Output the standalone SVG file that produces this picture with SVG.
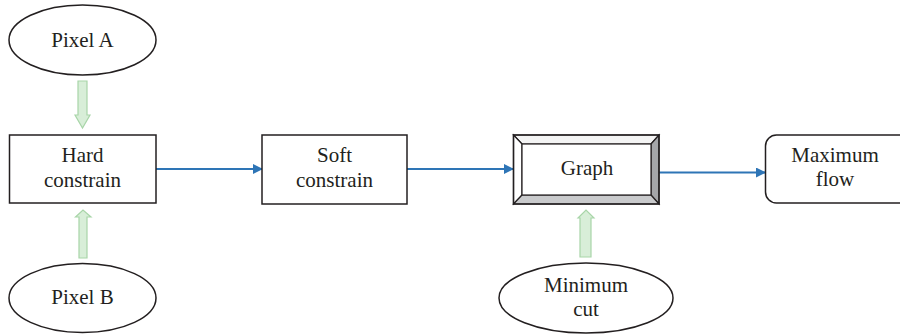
<svg xmlns="http://www.w3.org/2000/svg" width="900" height="334" viewBox="0 0 900 334">
<style>
.box{fill:#fff;stroke:#231f20;stroke-width:1.5}
.t{font-family:"Liberation Serif","Times New Roman",serif;font-size:21px;fill:#231f20;text-anchor:middle}
.blue{stroke:#2e75b6;stroke-width:2;fill:none;marker-end:url(#ah)}
.green{fill:#d8eed8;stroke:#a8d5a8;stroke-width:1.2}
</style>
<defs>
<marker id="ah" markerWidth="10" markerHeight="10" refX="9" refY="5" orient="auto" markerUnits="userSpaceOnUse">
<path d="M0,0 L10,5 L0,10 Z" fill="#2e75b6"/>
</marker>
</defs>
<rect width="900" height="334" fill="#fff"/>
<g id="connectors">
<line class="blue" x1="156" y1="169" x2="262" y2="169"/>
<line class="blue" x1="407" y1="169" x2="513" y2="169"/>
<line class="blue" x1="659" y1="172.5" x2="765" y2="172.5"/>
<path class="green" d="M78,81 H87 V115 H90 L82.5,128 L75,115 H78 Z"/>
<path class="green" d="M79,258 H87 V217 H91 L83,210 L75.5,217 H79 Z"/>
<path class="green" d="M580,257 H591 V218 H594 L586,210 L578,218 H580 Z"/>
</g>
<g id="pixelA">
<ellipse class="box" cx="82.5" cy="40" rx="73.5" ry="35"/>
<text class="t" x="82.5" y="47">Pixel A</text>
</g>
<g id="hard">
<rect class="box" x="9.5" y="135" width="146.5" height="68"/>
<text class="t" x="82.5" y="162">Hard</text>
<text class="t" x="82.5" y="187">constrain</text>
</g>
<g id="pixelB">
<ellipse class="box" cx="82.5" cy="298" rx="73.5" ry="34.5"/>
<text class="t" x="82.5" y="304">Pixel B</text>
</g>
<g id="soft">
<rect class="box" x="262" y="135" width="145" height="69"/>
<text class="t" x="334.5" y="162">Soft</text>
<text class="t" x="334.5" y="187">constrain</text>
</g>
<g id="graph">
<rect x="513.5" y="135" width="145.5" height="69" fill="#fff"/>
<path d="M513.5,135 H659 L651,144 H522 Z" fill="#f4f4f4" stroke="#231f20" stroke-width="1.2"/>
<path d="M513.5,135 L522,144 V195 L513.5,204 Z" fill="#fff" stroke="#231f20" stroke-width="1.2"/>
<path d="M659,135 L651,144 V195 L659,204 Z" fill="#a5a6a9" stroke="#231f20" stroke-width="1.2"/>
<path d="M513.5,204 L522,195 H651 L659,204 Z" fill="#c9cacc" stroke="#231f20" stroke-width="1.2"/>
<rect x="513.5" y="135" width="145.5" height="69" fill="none" stroke="#231f20" stroke-width="1.5"/>
<rect x="522" y="144" width="129" height="51" fill="#fff" stroke="#231f20" stroke-width="1.2"/>
<text class="t" x="587" y="175">Graph</text>
</g>
<g id="maxflow">
<rect class="box" x="765.5" y="135" width="145" height="68" rx="11"/>
<text class="t" x="835" y="162">Maximum</text>
<text class="t" x="835" y="186">flow</text>
</g>
<g id="mincut">
<ellipse class="box" cx="586" cy="298" rx="87" ry="35"/>
<text class="t" x="586" y="292">Minimum</text>
<text class="t" x="586" y="316">cut</text>
</g>
</svg>
